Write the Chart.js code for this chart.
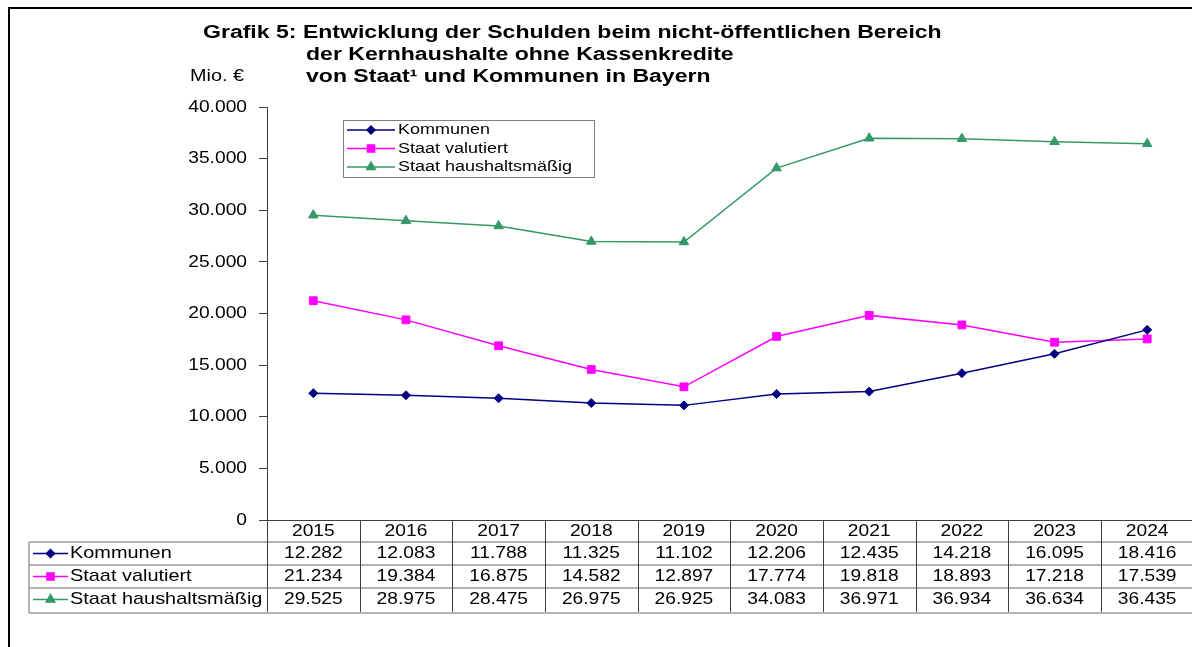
<!DOCTYPE html>
<html>
<head>
<meta charset="utf-8">
<script src="https://cdn.jsdelivr.net/npm/chart.js@4"></script>
<style>
  html, body { margin: 0; padding: 0; background: #fff; overflow: hidden; }
  #wrap { width: 1200px; height: 647px; }
</style>
</head>
<body>
<div id="wrap"><canvas id="chart" width="1200" height="647"></canvas></div>
<script>
// ── Data (Mio. €) ──
const years = ['2015', '2016', '2017', '2018', '2019', '2020', '2021', '2022', '2023', '2024'];
const kommunen = [12282, 12083, 11788, 11325, 11102, 12206, 12435, 14218, 16095, 18416];
const staatValutiert = [21234, 19384, 16875, 14582, 12897, 17774, 19818, 18893, 17218, 17539];
const staatHaushalt = [29525, 28975, 28475, 26975, 26925, 34083, 36971, 36934, 36634, 36435];
const seriesNames = ['Kommunen', 'Staat valutiert', 'Staat haushaltsmäßig'];
const seriesColors = ['#000080', '#ff00ff', '#339966'];
const seriesPoints = ['rectRot', 'rect', 'triangle'];
const seriesRadius = [4.5, 5.5, 5.5];

const titleLines = [
  'Grafik 5: Entwicklung der Schulden beim nicht-öffentlichen Bereich',
  'der Kernhaushalte ohne Kassenkredite',
  'von Staat¹ und Kommunen in Bayern'
];
const unitLabel = 'Mio. €';

const FONT = '"Liberation Sans", Arial, sans-serif';
const SX = 1.13; // reference text is drawn a bit wider than plain Arial

// German thousands separator
const fmt = v => String(v).replace(/\B(?=(\d{3})+(?!\d))/g, '.');

// stretched text helper
function txt(ctx, s, x, y, align, font, color, sx = SX) {
  ctx.save();
  ctx.font = font;
  ctx.fillStyle = color;
  ctx.textBaseline = 'middle';
  ctx.textAlign = 'left';
  const w = ctx.measureText(s).width * sx;
  const x0 = align === 'right' ? x - w : align === 'center' ? x - w / 2 : x;
  ctx.translate(x0, y);
  ctx.scale(sx, 1);
  ctx.fillText(s, 0, 0);
  ctx.restore();
}

function seriesSample(ctx, i, x1, x2, y) {
  ctx.save();
  ctx.strokeStyle = seriesColors[i];
  ctx.lineWidth = 1.5;
  ctx.beginPath(); ctx.moveTo(x1, y); ctx.lineTo(x2, y); ctx.stroke();
  ctx.fillStyle = seriesColors[i];
  ctx.strokeStyle = seriesColors[i];
  Chart.helpers.drawPoint(ctx, { pointStyle: seriesPoints[i], radius: seriesRadius[i] - 0.5, rotation: 0, borderWidth: 1 }, (x1 + x2) / 2, y);
  ctx.restore();
}

// ── Frame, title, y labels, legend, data table ──
const decorPlugin = {
  id: 'decor',
  beforeDraw(chart) {
    const ctx = chart.ctx;
    ctx.save();
    ctx.fillStyle = '#fff';
    ctx.fillRect(0, 0, chart.width, chart.height);
    ctx.strokeStyle = '#000';
    ctx.lineWidth = 2;
    ctx.beginPath();
    ctx.moveTo(9, chart.height);
    ctx.lineTo(9, 8);
    ctx.lineTo(chart.width, 8);
    ctx.stroke();
    ctx.restore();
  },
  afterDraw(chart) {
    const ctx = chart.ctx;
    const area = chart.chartArea;
    const xs = chart.scales.x;
    const ys = chart.scales.y;

    // title
    const tf = 'bold 18px ' + FONT;
    txt(ctx, titleLines[0], 203, 33, 'left', tf, '#000', 1.28);
    txt(ctx, titleLines[1], 306, 55, 'left', tf, '#000', 1.28);
    txt(ctx, titleLines[2], 306, 77, 'left', tf, '#000', 1.28);
    txt(ctx, unitLabel, 190, 77, 'left', '16px ' + FONT, '#000', 1.24);

    // y tick labels
    ys.ticks.forEach(t => {
      txt(ctx, fmt(t.value), 247, ys.getPixelForValue(t.value), 'right', '17px ' + FONT, '#000');
    });

    // legend
    ctx.save();
    ctx.strokeStyle = '#808080';
    ctx.lineWidth = 1;
    ctx.strokeRect(343.5, 120.5, 251, 57);
    ctx.restore();
    [130, 148.5, 167].forEach((y, i) => {
      seriesSample(ctx, i, 347, 395, y);
      txt(ctx, seriesNames[i], 398, y, 'left', '15.5px ' + FONT, '#000', 1.16);
    });

    // data table
    const rowH = 23;
    const top = area.bottom;
    const left = area.left;
    const labelLeft = 29;
    const colW = xs.width / years.length;
    const right = area.right;
    const rows = [kommunen, staatValutiert, staatHaushalt];

    ctx.save();
    // horizontal lines
    ctx.strokeStyle = '#9a9a9a';
    ctx.lineWidth = 1.5;
    for (let r = 1; r <= 3; r++) {
      ctx.beginPath();
      ctx.moveTo(labelLeft, top + rowH * r - 1);
      ctx.lineTo(right, top + rowH * r - 1);
      ctx.stroke();
    }
    ctx.beginPath();
    ctx.moveTo(labelLeft, top + rowH * 4 + 1);
    ctx.lineTo(right, top + rowH * 4 + 1);
    ctx.stroke();
    ctx.beginPath();
    ctx.moveTo(labelLeft, top + rowH - 1);
    ctx.lineTo(labelLeft, top + rowH * 4 + 1);
    ctx.stroke();
    // top line (x axis)
    ctx.strokeStyle = '#404040';
    ctx.lineWidth = 1;
    ctx.beginPath();
    ctx.moveTo(left, top + 0.5);
    ctx.lineTo(right, top + 0.5);
    ctx.stroke();
    // column separators
    ctx.strokeStyle = '#404040';
    for (let c = 0; c <= years.length; c++) {
      const x = Math.round(left + colW * c) + 0.5;
      ctx.beginPath();
      ctx.moveTo(x, top);
      ctx.lineTo(x, top + rowH * 4);
      ctx.stroke();
    }
    ctx.restore();

    const cf = '17px ' + FONT;
    years.forEach((yr, c) => {
      const cx = xs.getPixelForValue(c);
      txt(ctx, yr, cx, top + 11.5, 'center', cf, '#000');
      rows.forEach((vals, r) => {
        txt(ctx, fmt(vals[c]), cx, top + rowH * (r + 1) + 10.5, 'center', cf, '#000');
      });
    });
    seriesNames.forEach((name, r) => {
      const y = top + rowH * (r + 1) + 10.5;
      seriesSample(ctx, r, 33, 68, y);
      txt(ctx, name, 70, y, 'left', cf, '#000', 1.17);
    });
  }
};

const datasets = [kommunen, staatValutiert, staatHaushalt].map((vals, i) => ({
  label: seriesNames[i],
  data: vals,
  borderColor: seriesColors[i],
  backgroundColor: seriesColors[i],
  borderWidth: 1.5,
  pointStyle: seriesPoints[i],
  pointRadius: seriesRadius[i],
  pointBorderWidth: 1,
  tension: 0,
  fill: false
}));

new Chart(document.getElementById('chart'), {
  type: 'line',
  data: { labels: years, datasets },
  options: {
    responsive: false,
    animation: false,
    devicePixelRatio: 1,
    layout: { padding: { left: 0, right: 5, top: 107, bottom: 127 } },
    plugins: {
      legend: { display: false },
      title: { display: false },
      tooltip: { enabled: false }
    },
    scales: {
      x: { display: false, offset: true },
      y: {
        min: 0,
        max: 40000,
        ticks: { stepSize: 5000, display: false },
        grid: { drawOnChartArea: false, drawTicks: true, tickLength: 8, color: '#404040' },
        border: { display: true, color: '#404040', width: 1 },
        afterFit: s => { s.width = 267; }
      }
    }
  },
  plugins: [decorPlugin]
});
</script>
</body>
</html>
